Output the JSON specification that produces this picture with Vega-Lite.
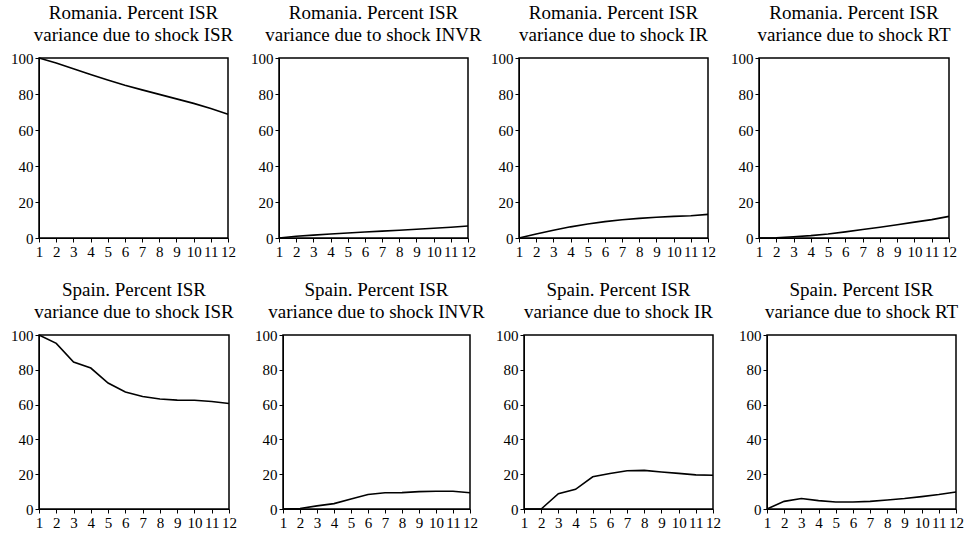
{
  "$schema": "https://vega.github.io/schema/vega-lite/v6.json",
  "background": "white",
  "padding": {"left": 9, "top": 3, "right": 5, "bottom": 5},
  "data": {"values": [
    {"country": "Romania", "shock": "ISR", "step": 1, "value": 100},
    {"country": "Romania", "shock": "ISR", "step": 2, "value": 97.2},
    {"country": "Romania", "shock": "ISR", "step": 3, "value": 94},
    {"country": "Romania", "shock": "ISR", "step": 4, "value": 90.8},
    {"country": "Romania", "shock": "ISR", "step": 5, "value": 87.8},
    {"country": "Romania", "shock": "ISR", "step": 6, "value": 84.9},
    {"country": "Romania", "shock": "ISR", "step": 7, "value": 82.3},
    {"country": "Romania", "shock": "ISR", "step": 8, "value": 79.8},
    {"country": "Romania", "shock": "ISR", "step": 9, "value": 77.3},
    {"country": "Romania", "shock": "ISR", "step": 10, "value": 74.8},
    {"country": "Romania", "shock": "ISR", "step": 11, "value": 71.9},
    {"country": "Romania", "shock": "ISR", "step": 12, "value": 68.8},
    {"country": "Romania", "shock": "INVR", "step": 1, "value": 0},
    {"country": "Romania", "shock": "INVR", "step": 2, "value": 1},
    {"country": "Romania", "shock": "INVR", "step": 3, "value": 1.6},
    {"country": "Romania", "shock": "INVR", "step": 4, "value": 2.2},
    {"country": "Romania", "shock": "INVR", "step": 5, "value": 2.8},
    {"country": "Romania", "shock": "INVR", "step": 6, "value": 3.3},
    {"country": "Romania", "shock": "INVR", "step": 7, "value": 3.8},
    {"country": "Romania", "shock": "INVR", "step": 8, "value": 4.3},
    {"country": "Romania", "shock": "INVR", "step": 9, "value": 4.9},
    {"country": "Romania", "shock": "INVR", "step": 10, "value": 5.4},
    {"country": "Romania", "shock": "INVR", "step": 11, "value": 6},
    {"country": "Romania", "shock": "INVR", "step": 12, "value": 6.7},
    {"country": "Romania", "shock": "IR", "step": 1, "value": 0},
    {"country": "Romania", "shock": "IR", "step": 2, "value": 2.2},
    {"country": "Romania", "shock": "IR", "step": 3, "value": 4.3},
    {"country": "Romania", "shock": "IR", "step": 4, "value": 6.2},
    {"country": "Romania", "shock": "IR", "step": 5, "value": 7.8},
    {"country": "Romania", "shock": "IR", "step": 6, "value": 9.1},
    {"country": "Romania", "shock": "IR", "step": 7, "value": 10.1},
    {"country": "Romania", "shock": "IR", "step": 8, "value": 10.9},
    {"country": "Romania", "shock": "IR", "step": 9, "value": 11.5},
    {"country": "Romania", "shock": "IR", "step": 10, "value": 12},
    {"country": "Romania", "shock": "IR", "step": 11, "value": 12.4},
    {"country": "Romania", "shock": "IR", "step": 12, "value": 13.1},
    {"country": "Romania", "shock": "RT", "step": 1, "value": 0},
    {"country": "Romania", "shock": "RT", "step": 2, "value": 0.1},
    {"country": "Romania", "shock": "RT", "step": 3, "value": 0.7},
    {"country": "Romania", "shock": "RT", "step": 4, "value": 1.3},
    {"country": "Romania", "shock": "RT", "step": 5, "value": 2.2},
    {"country": "Romania", "shock": "RT", "step": 6, "value": 3.4},
    {"country": "Romania", "shock": "RT", "step": 7, "value": 4.7},
    {"country": "Romania", "shock": "RT", "step": 8, "value": 6},
    {"country": "Romania", "shock": "RT", "step": 9, "value": 7.4},
    {"country": "Romania", "shock": "RT", "step": 10, "value": 8.8},
    {"country": "Romania", "shock": "RT", "step": 11, "value": 10.2},
    {"country": "Romania", "shock": "RT", "step": 12, "value": 12},
    {"country": "Spain", "shock": "ISR", "step": 1, "value": 100},
    {"country": "Spain", "shock": "ISR", "step": 2, "value": 95.2},
    {"country": "Spain", "shock": "ISR", "step": 3, "value": 84.5},
    {"country": "Spain", "shock": "ISR", "step": 4, "value": 81},
    {"country": "Spain", "shock": "ISR", "step": 5, "value": 72.4},
    {"country": "Spain", "shock": "ISR", "step": 6, "value": 67.2},
    {"country": "Spain", "shock": "ISR", "step": 7, "value": 64.7},
    {"country": "Spain", "shock": "ISR", "step": 8, "value": 63.2},
    {"country": "Spain", "shock": "ISR", "step": 9, "value": 62.6},
    {"country": "Spain", "shock": "ISR", "step": 10, "value": 62.5},
    {"country": "Spain", "shock": "ISR", "step": 11, "value": 61.8},
    {"country": "Spain", "shock": "ISR", "step": 12, "value": 60.6},
    {"country": "Spain", "shock": "INVR", "step": 1, "value": 0},
    {"country": "Spain", "shock": "INVR", "step": 2, "value": 0.3},
    {"country": "Spain", "shock": "INVR", "step": 3, "value": 1.8},
    {"country": "Spain", "shock": "INVR", "step": 4, "value": 3.1},
    {"country": "Spain", "shock": "INVR", "step": 5, "value": 5.8},
    {"country": "Spain", "shock": "INVR", "step": 6, "value": 8.3},
    {"country": "Spain", "shock": "INVR", "step": 7, "value": 9.3},
    {"country": "Spain", "shock": "INVR", "step": 8, "value": 9.4},
    {"country": "Spain", "shock": "INVR", "step": 9, "value": 10},
    {"country": "Spain", "shock": "INVR", "step": 10, "value": 10.2},
    {"country": "Spain", "shock": "INVR", "step": 11, "value": 10.2},
    {"country": "Spain", "shock": "INVR", "step": 12, "value": 9.3},
    {"country": "Spain", "shock": "IR", "step": 1, "value": 0},
    {"country": "Spain", "shock": "IR", "step": 2, "value": 0},
    {"country": "Spain", "shock": "IR", "step": 3, "value": 8.8},
    {"country": "Spain", "shock": "IR", "step": 4, "value": 11.3},
    {"country": "Spain", "shock": "IR", "step": 5, "value": 18.5},
    {"country": "Spain", "shock": "IR", "step": 6, "value": 20.4},
    {"country": "Spain", "shock": "IR", "step": 7, "value": 22},
    {"country": "Spain", "shock": "IR", "step": 8, "value": 22.2},
    {"country": "Spain", "shock": "IR", "step": 9, "value": 21.3},
    {"country": "Spain", "shock": "IR", "step": 10, "value": 20.5},
    {"country": "Spain", "shock": "IR", "step": 11, "value": 19.6},
    {"country": "Spain", "shock": "IR", "step": 12, "value": 19.4},
    {"country": "Spain", "shock": "RT", "step": 1, "value": 0},
    {"country": "Spain", "shock": "RT", "step": 2, "value": 4.4},
    {"country": "Spain", "shock": "RT", "step": 3, "value": 6},
    {"country": "Spain", "shock": "RT", "step": 4, "value": 4.8},
    {"country": "Spain", "shock": "RT", "step": 5, "value": 4},
    {"country": "Spain", "shock": "RT", "step": 6, "value": 4},
    {"country": "Spain", "shock": "RT", "step": 7, "value": 4.4},
    {"country": "Spain", "shock": "RT", "step": 8, "value": 5.2},
    {"country": "Spain", "shock": "RT", "step": 9, "value": 6},
    {"country": "Spain", "shock": "RT", "step": 10, "value": 7.1},
    {"country": "Spain", "shock": "RT", "step": 11, "value": 8.3},
    {"country": "Spain", "shock": "RT", "step": 12, "value": 9.8}
  ]},
  "config": {
    "font": "Liberation Serif, DejaVu Serif, serif",
    "view": {"stroke": "black", "strokeWidth": 1.5},
    "axis": {
      "grid": false,
      "domainColor": "black",
      "domainWidth": 1,
      "tickColor": "black",
      "tickSize": 4,
      "labelColor": "black",
      "labelFont": "Liberation Serif, DejaVu Serif, serif",
      "labelFontSize": 15,
      "labelPadding": 2,
      "title": null
    },
    "axisX": {"labelOverlap": false, "labelFlush": false},
    "title": {
      "font": "Liberation Serif, DejaVu Serif, serif",
      "fontSize": 19,
      "fontWeight": "normal",
      "color": "black",
      "lineHeight": 22,
      "anchor": "middle",
      "offset": 6
    },
    "line": {"color": "black", "strokeWidth": 1.6}
  },
  "spacing": 20,
  "vconcat": [
    {
      "bounds": "flush",
      "spacing": 51,
      "hconcat": [
        {
          "title": {"text": ["Romania. Percent ISR", "variance due to shock ISR"], "font": "Liberation Serif, DejaVu Serif, serif", "fontWeight": "normal", "fontSize": 19},
          "width": 189, "height": 180,
          "transform": [{"filter": "datum.country === 'Romania' && datum.shock === 'ISR'"}],
          "mark": "line",
          "encoding": {
            "x": {"field": "step", "type": "quantitative", "scale": {"domain": [1, 12], "nice": false}, "axis": {"values": [1,2,3,4,5,6,7,8,9,10,11,12]}},
            "y": {"field": "value", "type": "quantitative", "scale": {"domain": [0, 100], "nice": false}, "axis": {"values": [0,20,40,60,80,100]}}
          }
        },
        {
          "title": {"text": ["Romania. Percent ISR", "variance due to shock INVR"], "font": "Liberation Serif, DejaVu Serif, serif", "fontWeight": "normal", "fontSize": 19},
          "width": 189, "height": 180,
          "transform": [{"filter": "datum.country === 'Romania' && datum.shock === 'INVR'"}],
          "mark": "line",
          "encoding": {
            "x": {"field": "step", "type": "quantitative", "scale": {"domain": [1, 12], "nice": false}, "axis": {"values": [1,2,3,4,5,6,7,8,9,10,11,12]}},
            "y": {"field": "value", "type": "quantitative", "scale": {"domain": [0, 100], "nice": false}, "axis": {"values": [0,20,40,60,80,100]}}
          }
        },
        {
          "title": {"text": ["Romania. Percent ISR", "variance due to shock IR"], "font": "Liberation Serif, DejaVu Serif, serif", "fontWeight": "normal", "fontSize": 19},
          "width": 189, "height": 180,
          "transform": [{"filter": "datum.country === 'Romania' && datum.shock === 'IR'"}],
          "mark": "line",
          "encoding": {
            "x": {"field": "step", "type": "quantitative", "scale": {"domain": [1, 12], "nice": false}, "axis": {"values": [1,2,3,4,5,6,7,8,9,10,11,12]}},
            "y": {"field": "value", "type": "quantitative", "scale": {"domain": [0, 100], "nice": false}, "axis": {"values": [0,20,40,60,80,100]}}
          }
        },
        {
          "title": {"text": ["Romania. Percent ISR", "variance due to shock RT"], "font": "Liberation Serif, DejaVu Serif, serif", "fontWeight": "normal", "fontSize": 19},
          "width": 190, "height": 180,
          "transform": [{"filter": "datum.country === 'Romania' && datum.shock === 'RT'"}],
          "mark": "line",
          "encoding": {
            "x": {"field": "step", "type": "quantitative", "scale": {"domain": [1, 12], "nice": false}, "axis": {"values": [1,2,3,4,5,6,7,8,9,10,11,12]}},
            "y": {"field": "value", "type": "quantitative", "scale": {"domain": [0, 100], "nice": false}, "axis": {"values": [0,20,40,60,80,100]}}
          }
        }
      ]
    },
    {
      "bounds": "flush",
      "spacing": 54,
      "hconcat": [
        {
          "title": {"text": ["Spain. Percent ISR", "variance due to shock ISR"], "font": "Liberation Serif, DejaVu Serif, serif", "fontWeight": "normal", "fontSize": 19},
          "width": 190, "height": 174,
          "transform": [{"filter": "datum.country === 'Spain' && datum.shock === 'ISR'"}],
          "mark": "line",
          "encoding": {
            "x": {"field": "step", "type": "quantitative", "scale": {"domain": [1, 12], "nice": false}, "axis": {"values": [1,2,3,4,5,6,7,8,9,10,11,12]}},
            "y": {"field": "value", "type": "quantitative", "scale": {"domain": [0, 100], "nice": false}, "axis": {"values": [0,20,40,60,80,100]}}
          }
        },
        {
          "title": {"text": ["Spain. Percent ISR", "variance due to shock INVR"], "font": "Liberation Serif, DejaVu Serif, serif", "fontWeight": "normal", "fontSize": 19},
          "width": 187, "height": 174,
          "transform": [{"filter": "datum.country === 'Spain' && datum.shock === 'INVR'"}],
          "mark": "line",
          "encoding": {
            "x": {"field": "step", "type": "quantitative", "scale": {"domain": [1, 12], "nice": false}, "axis": {"values": [1,2,3,4,5,6,7,8,9,10,11,12]}},
            "y": {"field": "value", "type": "quantitative", "scale": {"domain": [0, 100], "nice": false}, "axis": {"values": [0,20,40,60,80,100]}}
          }
        },
        {
          "title": {"text": ["Spain. Percent ISR", "variance due to shock IR"], "font": "Liberation Serif, DejaVu Serif, serif", "fontWeight": "normal", "fontSize": 19},
          "width": 189, "height": 174,
          "transform": [{"filter": "datum.country === 'Spain' && datum.shock === 'IR'"}],
          "mark": "line",
          "encoding": {
            "x": {"field": "step", "type": "quantitative", "scale": {"domain": [1, 12], "nice": false}, "axis": {"values": [1,2,3,4,5,6,7,8,9,10,11,12]}},
            "y": {"field": "value", "type": "quantitative", "scale": {"domain": [0, 100], "nice": false}, "axis": {"values": [0,20,40,60,80,100]}}
          }
        },
        {
          "title": {"text": ["Spain. Percent ISR", "variance due to shock RT"], "font": "Liberation Serif, DejaVu Serif, serif", "fontWeight": "normal", "fontSize": 19},
          "width": 189, "height": 174,
          "transform": [{"filter": "datum.country === 'Spain' && datum.shock === 'RT'"}],
          "mark": "line",
          "encoding": {
            "x": {"field": "step", "type": "quantitative", "scale": {"domain": [1, 12], "nice": false}, "axis": {"values": [1,2,3,4,5,6,7,8,9,10,11,12]}},
            "y": {"field": "value", "type": "quantitative", "scale": {"domain": [0, 100], "nice": false}, "axis": {"values": [0,20,40,60,80,100]}}
          }
        }
      ]
    }
  ]
}
